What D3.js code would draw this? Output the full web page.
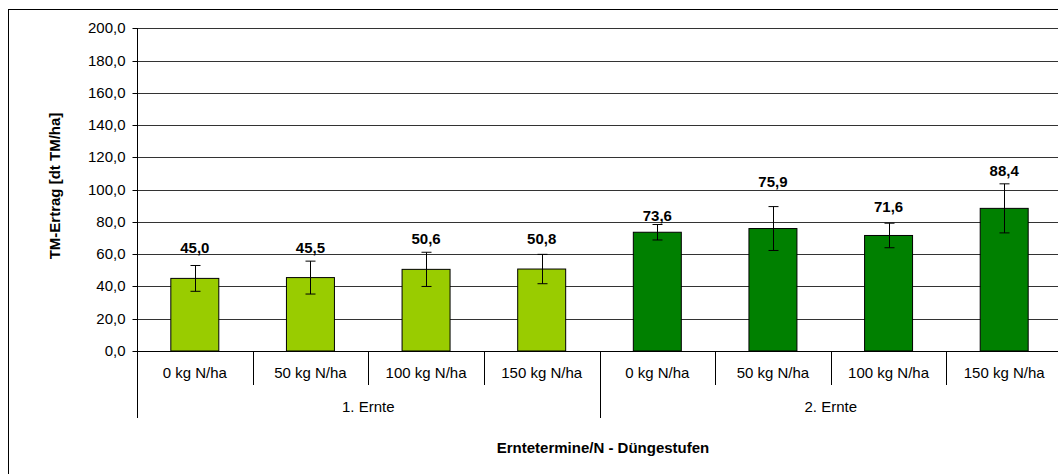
<!DOCTYPE html>
<html>
<head>
<meta charset="utf-8">
<script src="https://cdn.jsdelivr.net/npm/d3@7"></script>
<style>
  html, body { margin: 0; padding: 0; background: #fff; }
  svg { display: block; font-family: "Liberation Sans", Arial, sans-serif; }
</style>
</head>
<body>
<svg id="chart" width="1058" height="474"></svg>
<script>
// ---- data ----
const groups = ["1. Ernte", "2. Ernte"];
const levels = ["0 kg N/ha", "50 kg N/ha", "100 kg N/ha", "150 kg N/ha"];
const values1 = [45.0, 45.5, 50.6, 50.8];
const values2 = [73.6, 75.9, 71.6, 88.4];
const errors1 = [8.0, 10.2, 10.6, 9.1];
const errors2 = [4.8, 13.6, 7.6, 15.2];
const labelAt1 = [60.7, 60.7, 66.3, 66.3];   // data-label baseline (value units), as placed in original
const labelAt2 = [80.7, 101.4, 86.1, 108.4];
const yTicks = [0, 20, 40, 60, 80, 100, 120, 140, 160, 180, 200];
const yTitle = "TM-Ertrag [dt TM/ha]";
const xTitle = "Erntetermine/N - Düngestufen";
const colors = ["#99CC00", "#008000"];

(function () {
// ---- build rows ----
const rows = [];
[values1, values2].forEach((vals, g) => {
  const errs = g === 0 ? errors1 : errors2;
  const labs = g === 0 ? labelAt1 : labelAt2;
  vals.forEach((v, i) => rows.push({ key: g + "-" + i, group: g, level: levels[i], value: v, err: errs[i], labelAt: labs[i] }));
});

const svg = d3.select("#chart");
const pLeft = 137, pRight = 1062, pTop = 28.3, pBottom = 351;

// outer chart border
svg.append("rect").attr("x", 8.5).attr("y", 9.5).attr("width", 1100).attr("height", 500)
  .attr("fill", "#fff").attr("stroke", "#000").attr("stroke-width", 1);

const x = d3.scaleBand().domain(rows.map(d => d.key)).range([pLeft, pRight]).padding(0);
const y = d3.scaleLinear().domain([0, 200]).range([pBottom, pTop]);
const fmt = v => d3.format(".1f")(v).replace(".", ",");

// gridlines
svg.append("g").selectAll("line").data(yTicks).join("line")
  .attr("x1", pLeft).attr("x2", pRight)
  .attr("y1", d => Math.round(y(d)) + 0.5).attr("y2", d => Math.round(y(d)) + 0.5)
  .attr("stroke", "#333").attr("stroke-width", 1);

// y axis
const yAxis = d3.axisLeft(y).tickValues(yTicks).tickFormat(fmt).tickSize(5).tickPadding(7);
const gy = svg.append("g").attr("transform", `translate(${pLeft + 0.5},0)`).call(yAxis);
gy.select(".domain").remove();
gy.selectAll(".tick").attr("transform", d => `translate(0,${Math.round(y(d)) + 0.5})`);
gy.selectAll(".tick line").attr("stroke", "#000");
gy.selectAll(".tick text").attr("font-size", 15).attr("fill", "#000")
  .attr("font-family", "'Liberation Sans', Arial, sans-serif");
// axis line extended into category area
svg.append("line").attr("x1", pLeft + 0.5).attr("x2", pLeft + 0.5).attr("y1", pTop).attr("y2", 418)
  .attr("stroke", "#000");

// bars
const bw = x.bandwidth() * 0.415;
svg.append("g").selectAll("rect").data(rows).join("rect")
  .attr("x", d => x(d.key) + (x.bandwidth() - bw) / 2)
  .attr("width", bw)
  .attr("y", d => y(d.value))
  .attr("height", d => y(0) - y(d.value))
  .attr("fill", d => colors[d.group])
  .attr("stroke", "#000").attr("stroke-width", 1);

// baseline
svg.append("line").attr("x1", pLeft).attr("x2", pRight)
  .attr("y1", Math.round(y(0)) + 0.5).attr("y2", Math.round(y(0)) + 0.5).attr("stroke", "#000");

// error bars
const eg = svg.append("g").attr("stroke", "#000").attr("stroke-width", 1);
rows.forEach(d => {
  const cx = Math.round(x(d.key) + x.bandwidth() / 2) + 0.5;
  eg.append("line").attr("x1", cx).attr("x2", cx).attr("y1", y(d.value + d.err)).attr("y2", y(d.value - d.err));
  eg.append("line").attr("x1", cx - 5).attr("x2", cx + 5).attr("y1", y(d.value + d.err)).attr("y2", y(d.value + d.err));
  eg.append("line").attr("x1", cx - 5).attr("x2", cx + 5).attr("y1", y(d.value - d.err)).attr("y2", y(d.value - d.err));
});

// data labels
svg.append("g").selectAll("text").data(rows).join("text")
  .attr("x", d => x(d.key) + x.bandwidth() / 2)
  .attr("y", d => y(d.labelAt))
  .attr("text-anchor", "middle").attr("font-size", 15).attr("font-weight", "bold")
  .text(d => fmt(d.value));

// category separators
const sep = svg.append("g").attr("stroke", "#000");
rows.forEach((d, i) => {
  if (i === 0) return;
  const xx = Math.round(x(d.key)) + 0.5;
  const isGroup = rows[i - 1].group !== d.group;
  sep.append("line").attr("x1", xx).attr("x2", xx).attr("y1", pBottom).attr("y2", isGroup ? 418 : 385);
});
sep.append("line").attr("x1", pRight - 0.5).attr("x2", pRight - 0.5).attr("y1", pBottom).attr("y2", 418);

// category labels
svg.append("g").selectAll("text").data(rows).join("text")
  .attr("x", d => x(d.key) + x.bandwidth() / 2)
  .attr("y", 378)
  .attr("text-anchor", "middle").attr("font-size", 15)
  .text(d => d.level);

// group labels
svg.append("g").selectAll("text").data(groups).join("text")
  .attr("x", (g, gi) => {
    const ks = rows.filter(r => r.group === gi).map(r => r.key);
    return (x(ks[0]) + x(ks[ks.length - 1]) + x.bandwidth()) / 2;
  })
  .attr("y", 412)
  .attr("text-anchor", "middle").attr("font-size", 15)
  .text(d => d);

// axis titles
svg.append("text").attr("x", 603).attr("y", 453).attr("text-anchor", "middle")
  .attr("font-size", 15).attr("font-weight", "bold").text(xTitle);
svg.append("text").attr("transform", "translate(59.5,186) rotate(-90)").attr("text-anchor", "middle")
  .attr("font-size", 15).attr("font-weight", "bold").text(yTitle);
})();
</script>
</body>
</html>
